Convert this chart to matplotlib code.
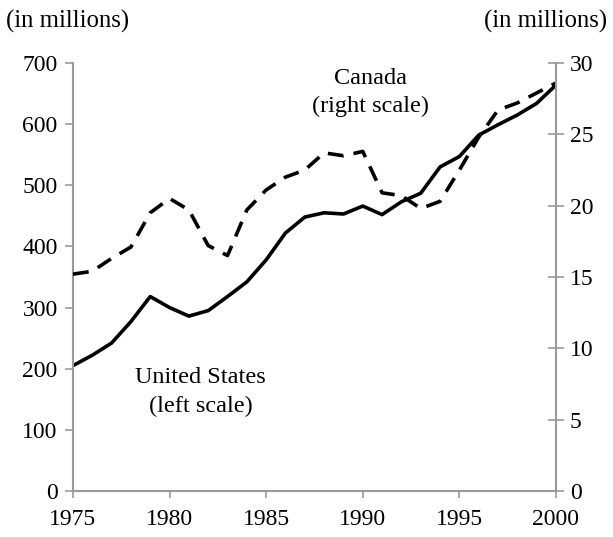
import numpy as np
import matplotlib
matplotlib.use("Agg")
import matplotlib.pyplot as plt

plt.rcParams['font.family'] = ['Liberation Serif', 'DejaVu Serif']
plt.rcParams['font.size'] = 17

years = np.arange(1975, 2001)
# US (left scale, millions)
us = [205, 222, 242, 277, 318, 300, 286, 295, 318, 342, 378, 422, 448, 455, 453,
      466, 452, 473, 487, 530, 547, 582, 599, 615, 634, 664]
# Canada (right scale, millions)
canada = [15.2, 15.4, 16.3, 17.1, 19.5, 20.5, 19.7, 17.2, 16.5, 19.7, 21.1, 22.0,
          22.5, 23.7, 23.5, 23.8, 20.9, 20.7, 19.8, 20.3, 22.5, 24.8, 26.7, 27.2,
          27.9, 28.6]

gray = '#9a9a9a'

fig = plt.figure(figsize=(6.13, 5.37), dpi=100)
ax = fig.add_axes([0.119, 0.0857, 0.788, 0.797])
ax2 = ax.twinx()

ax.plot(years, us, color='black', lw=2.6, solid_joinstyle='round')
ax2.plot(years, canada, color='black', lw=2.6, dashes=(4.4, 2.8))

ax.set_xlim(1975, 2000)
ax.set_ylim(0, 700)
ax2.set_ylim(0, 30)
ax.set_xticks(range(1975, 2001, 5))
ax.set_yticks(range(0, 701, 100))
ax2.set_yticks(range(0, 31, 5))

for a in (ax, ax2):
    a.spines['top'].set_visible(False)
    for s in a.spines.values():
        s.set_color(gray)
        s.set_linewidth(1.5)
ax2.spines['left'].set_visible(False)
ax2.spines['bottom'].set_visible(False)
ax.spines['right'].set_visible(False)

ax.tick_params(axis='y', direction='out', length=6, width=1.2, color=gray, pad=5)
ax.tick_params(axis='x', direction='out', length=5, width=1.2, color=gray, pad=8)
ax2.tick_params(axis='y', direction='inout', length=12, width=1.2, color=gray, pad=4)

fig.text(0.01, 0.96, '(in millions)', ha='left', va='center', fontsize=17.8)
fig.text(0.99, 0.96, '(in millions)', ha='right', va='center', fontsize=17.8)

ax.text(1981.6, 162, 'United States\n(left scale)', ha='center', va='center',
        linespacing=1.45, fontsize=17.5)
ax.text(1990.4, 652, 'Canada\n(right scale)', ha='center', va='center',
        linespacing=1.45, fontsize=17.5)

fig.savefig('out.png', dpi=100)
